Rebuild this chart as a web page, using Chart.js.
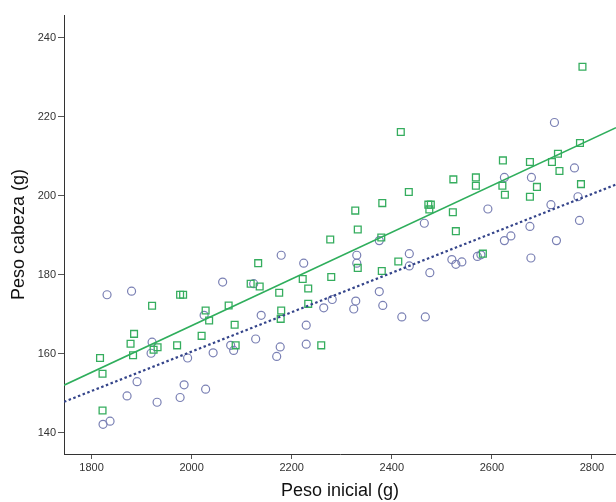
<!DOCTYPE html>
<html>
<head>
<meta charset="utf-8">
<script src="https://cdn.jsdelivr.net/npm/chart.js@4"></script>
<style>
  html, body { margin: 0; padding: 0; background: #fff; }
  #wrap { width: 616px; height: 502px; }
</style>
</head>
<body>
<div id="wrap"><canvas id="myChart" width="616" height="502"></canvas></div>
<script>
// group 1 (circles)
const circleX = [1823, 1837, 1831, 1880, 1871, 1891, 1921, 1919, 1931, 1977, 1985, 1992, 2028, 2043, 2025,
  2062, 2078, 2084, 2128, 2139, 2124, 2179, 2170, 2177, 2224, 2229, 2229, 2264, 2281, 2324,
  2328, 2330, 2330, 2375, 2382, 2375, 2420, 2435, 2435, 2465, 2467, 2476, 2520, 2528, 2540,
  2571, 2578, 2592, 2625, 2625, 2638, 2678, 2676, 2679, 2718, 2725, 2729, 2765, 2772, 2775];
const circleY = [142.1, 142.9, 174.9, 175.8, 149.3, 152.9, 162.9, 160.1, 147.7, 148.9, 152.1, 158.9, 151.0, 160.2, 169.7,
  178.1, 162.1, 160.8, 163.7, 169.7, 177.7, 184.9, 159.3, 161.7, 182.9, 167.2, 162.4, 171.6, 173.7, 171.3,
  173.3, 184.9, 182.9, 175.7, 172.2, 188.6, 169.3, 185.3, 182.2, 193.0, 169.3, 180.5, 183.8, 182.6, 183.2,
  184.6, 185.0, 196.6, 204.6, 188.6, 189.8, 184.2, 192.2, 204.6, 197.7, 218.5, 188.6, 207.0, 199.7, 193.7];

// group 2 (squares)
const squareX = [1817, 1822, 1822, 1878, 1885, 1883, 1921, 1924, 1932, 1971, 1977, 1983, 2020, 2028, 2035,
  2074, 2086, 2088, 2118, 2136, 2133, 2175, 2179, 2178, 2222, 2233, 2233, 2259, 2277, 2279,
  2327, 2332, 2332, 2379, 2381, 2380, 2413, 2418, 2434, 2473, 2478, 2475, 2523, 2522, 2528,
  2568, 2568, 2582, 2622, 2621, 2626, 2676, 2690, 2676, 2720, 2732, 2735, 2778, 2776, 2781];
const squareY = [158.9, 154.9, 145.6, 162.5, 165.0, 159.6, 172.1, 161.0, 161.6, 162.1, 174.9, 174.9, 164.5, 170.9, 168.4,
  172.2, 167.3, 162.1, 177.7, 177.0, 182.9, 175.4, 170.9, 168.8, 178.9, 176.5, 172.6, 162.1, 188.9, 179.4,
  196.2, 191.4, 181.7, 189.4, 198.1, 180.9, 183.3, 216.1, 200.9, 197.7, 197.7, 196.5, 204.1, 195.8, 191.0,
  204.6, 202.5, 185.3, 208.9, 202.5, 200.2, 208.5, 202.2, 199.7, 208.5, 210.6, 206.2, 202.9, 213.3, 232.6];

// fit lines, read at the two ends of the x axis
const fitX = [1745, 2848];
const fitCircleY = [147.8, 202.8];
const fitSquareY = [152.0, 217.2];

const xTicks = [1800, 2000, 2200, 2400, 2600, 2800];
const yTicks = [140, 160, 180, 200, 220, 240];

function pairs(xs, ys) {
  return xs.map((x, i) => ({ x: x, y: ys[i] }));
}

const ctx = document.getElementById('myChart').getContext('2d');

const myChart = new Chart(ctx, {
  type: 'scatter',
  data: {
    datasets: [
      {
        label: 'Ajuste 2',
        data: pairs(fitX, fitSquareY),
        showLine: true,
        borderColor: '#2fae5c',
        borderWidth: 1.6,
        pointRadius: 0,
        fill: false
      },
      {
        label: 'Ajuste 1',
        data: pairs(fitX, fitCircleY),
        showLine: true,
        borderColor: '#34448a',
        borderWidth: 2.2,
        borderDash: [2.5, 2.5],
        pointRadius: 0,
        fill: false
      },
      {
        label: 'Grupo 2',
        data: pairs(squareX, squareY),
        pointStyle: 'rect',
        pointRadius: 4.8,
        pointBorderWidth: 1.3,
        pointBorderColor: '#35ad5e',
        pointBackgroundColor: 'rgba(0,0,0,0)'
      },
      {
        label: 'Grupo 1',
        data: pairs(circleX, circleY),
        pointStyle: 'circle',
        pointRadius: 4,
        pointBorderWidth: 1.2,
        pointBorderColor: '#7a80b4',
        pointBackgroundColor: 'rgba(0,0,0,0)'
      }
    ]
  },
  options: {
    responsive: false,
    animation: false,
    layout: { autoPadding: false, padding: { top: 15, right: 0, left: 0, bottom: 0 } },
    plugins: { legend: { display: false }, tooltip: { enabled: false } },
    scales: {
      x: {
        type: 'linear',
        min: 1745,
        max: 2848,
        afterBuildTicks: s => { s.ticks = xTicks.map(v => ({ value: v })); },
        afterFit: s => { s.height = 48; s.paddingLeft = 0; s.paddingRight = 0; },
        grid: { drawOnChartArea: false, drawTicks: true, tickLength: 5, tickColor: '#555', tickWidth: 1 },
        border: { display: true, color: '#333', width: 1 },
        ticks: { color: '#333', padding: 2, maxRotation: 0, callback: v => String(v),
          font: { family: 'Liberation Sans', size: 11 } },
        title: { display: true, text: 'Peso inicial (g)', color: '#111', padding: { top: 0, bottom: 0 },
          font: { family: 'Liberation Sans', size: 18 } }
      },
      y: {
        type: 'linear',
        min: 134.6,
        max: 245.7,
        afterBuildTicks: s => { s.ticks = yTicks.map(v => ({ value: v })); },
        afterFit: s => { s.width = 64; s.paddingTop = 0; s.paddingBottom = 0; },
        grid: { drawOnChartArea: false, drawTicks: true, tickLength: 6, tickColor: '#555', tickWidth: 1 },
        border: { display: true, color: '#333', width: 1 },
        ticks: { color: '#333', padding: 2, callback: v => String(v),
          font: { family: 'Liberation Sans', size: 11 } },
        title: { display: true, text: 'Peso cabeza (g)', color: '#111', padding: { top: 8, bottom: 0 },
          font: { family: 'Liberation Sans', size: 18 } }
      }
    }
  }
});
</script>
</body>
</html>
